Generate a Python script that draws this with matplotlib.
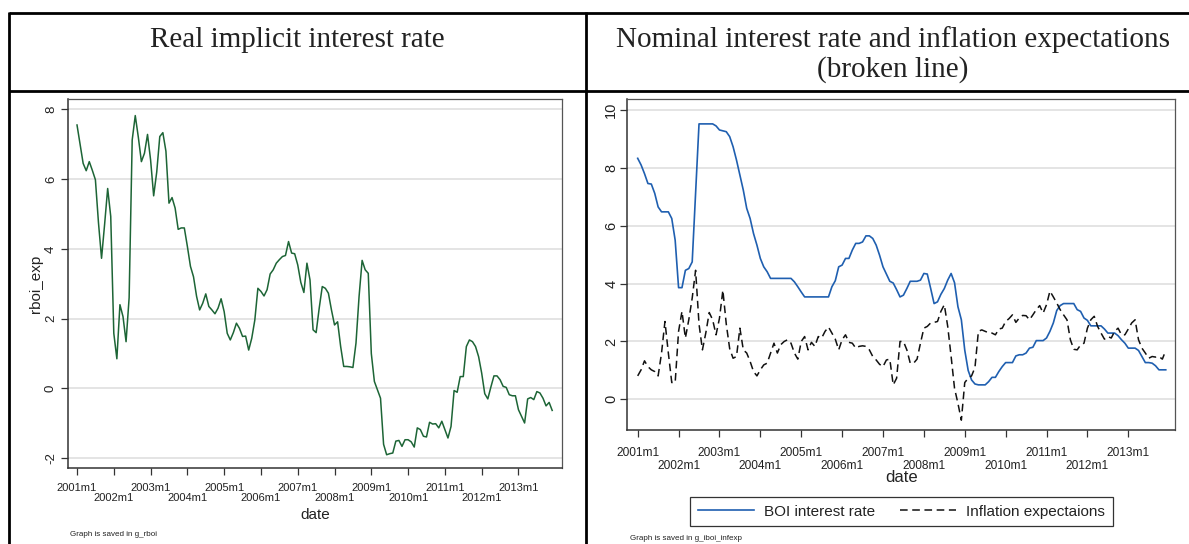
import matplotlib
matplotlib.use("Agg")
import matplotlib.pyplot as plt
from matplotlib.lines import Line2D
import numpy as np

# monthly data, 2001m1 .. 2013m12 (index 0 = 2001m1)
rboi_exp = [
    7.55, 7.0, 6.45, 6.24, 6.5, 6.25, 5.98, 4.75, 3.73, 4.7,
    5.73, 4.93, 1.58, 0.85, 2.4, 2.06, 1.34, 2.6, 7.12, 7.82,
    7.2, 6.5, 6.74, 7.28, 6.55, 5.52, 6.2, 7.22, 7.33, 6.8,
    5.31, 5.47, 5.17, 4.56, 4.6, 4.6, 4.07, 3.5, 3.2, 2.64,
    2.25, 2.44, 2.71, 2.35, 2.25, 2.14, 2.3, 2.57, 2.2, 1.58,
    1.39, 1.6, 1.87, 1.72, 1.49, 1.5, 1.1, 1.44, 1.96, 2.87,
    2.78, 2.65, 2.83, 3.28, 3.4, 3.59, 3.69, 3.78, 3.81, 4.21,
    3.88, 3.86, 3.54, 3.04, 2.75, 3.59, 3.11, 1.68, 1.6, 2.3,
    2.92, 2.87, 2.73, 2.25, 1.82, 1.91, 1.2, 0.63, 0.63, 0.62,
    0.6, 1.3, 2.63, 3.67, 3.4, 3.3, 1.0, 0.2, -0.04, -0.28,
    -1.6, -1.9, -1.87, -1.85, -1.51, -1.49, -1.66, -1.47, -1.47, -1.53,
    -1.68, -1.13, -1.18, -1.37, -1.39, -0.97, -1.02, -1.01, -1.13, -0.94,
    -1.18, -1.42, -1.09, -0.06, -0.11, 0.34, 0.34, 1.2, 1.39, 1.34,
    1.2, 0.91, 0.44, -0.15, -0.3, 0.04, 0.36, 0.36, 0.25, 0.06,
    0.03, -0.18, -0.21, -0.21, -0.61, -0.8, -0.99, -0.3, -0.26, -0.32,
    -0.09, -0.13, -0.28, -0.5, -0.4, -0.63,
]

boi_rate = [
    8.33, 8.1, 7.8, 7.46, 7.44, 7.12, 6.65, 6.48, 6.48, 6.48,
    6.25, 5.5, 3.86, 3.86, 4.46, 4.52, 4.75, 7.1, 9.52, 9.52,
    9.52, 9.52, 9.52, 9.45, 9.31, 9.28, 9.25, 9.08, 8.73, 8.27,
    7.75, 7.23, 6.6, 6.25, 5.73, 5.33, 4.87, 4.58, 4.41, 4.18,
    4.18, 4.18, 4.18, 4.18, 4.18, 4.18, 4.06, 3.89, 3.71, 3.54,
    3.54, 3.54, 3.54, 3.54, 3.54, 3.54, 3.54, 3.89, 4.1, 4.58,
    4.64, 4.87, 4.87, 5.16, 5.39, 5.39, 5.44, 5.65, 5.65, 5.56,
    5.33, 4.98, 4.58, 4.33, 4.08, 4.02, 3.79, 3.54, 3.6, 3.83,
    4.08, 4.08, 4.08, 4.12, 4.35, 4.33, 3.83, 3.31, 3.37, 3.63,
    3.83, 4.12, 4.35, 4.03, 3.2, 2.75, 1.7, 1.0, 0.67, 0.53,
    0.5, 0.5, 0.5, 0.61, 0.76, 0.76, 0.96, 1.13, 1.27, 1.27,
    1.27, 1.5, 1.54, 1.54, 1.6, 1.77, 1.8, 2.03, 2.03, 2.03,
    2.12, 2.35, 2.64, 3.07, 3.24, 3.31, 3.31, 3.31, 3.31, 3.1,
    3.04, 2.81, 2.73, 2.54, 2.54, 2.54, 2.54, 2.43, 2.29, 2.29,
    2.29, 2.2, 2.06, 1.94, 1.77, 1.77, 1.77, 1.69, 1.48, 1.27,
    1.27, 1.25, 1.16, 1.02, 1.02, 1.02,
]

infl_exp = [
    0.81, 1.02, 1.33, 1.13, 1.02, 0.96, 0.81, 1.6, 2.69, 1.6,
    0.58, 0.58, 2.35, 3.04, 2.12, 2.75, 3.5, 4.46, 2.6, 1.71,
    2.3, 3.0, 2.75, 2.23, 2.8, 3.77, 2.6, 1.75, 1.42, 1.48,
    2.46, 1.71, 1.6, 1.31, 0.96, 0.81, 1.02, 1.19, 1.25, 1.6,
    1.94, 1.6, 1.89, 2.0, 2.06, 1.94, 1.6, 1.39, 2.0, 2.17,
    1.71, 1.97, 1.83, 2.17, 2.12, 2.35, 2.5, 2.29, 2.08, 1.71,
    2.06, 2.23, 1.97, 1.94, 1.77, 1.83, 1.85, 1.83, 1.71, 1.48,
    1.36, 1.21, 1.13, 1.36, 1.39, 0.5, 0.73, 2.0, 2.0, 1.71,
    1.25, 1.25, 1.39, 1.94, 2.46, 2.52, 2.64, 2.66, 2.69, 3.04,
    3.27, 2.52, 1.48, 0.38, -0.14, -0.72, 0.58, 0.73, 0.81, 1.1,
    2.35, 2.4, 2.35, 2.3, 2.29, 2.23, 2.43, 2.46, 2.69, 2.79,
    2.92, 2.66, 2.81, 2.9, 2.89, 2.75, 2.92, 3.1, 3.24, 2.98,
    3.27, 3.74, 3.54, 3.33, 3.1, 2.92, 2.75, 2.06, 1.73, 1.71,
    1.88, 1.94, 2.46, 2.75, 2.87, 2.52, 2.29, 2.08, 2.17, 2.12,
    2.35, 2.46, 2.23, 2.23, 2.43, 2.64, 2.75, 2.06, 1.77, 1.6,
    1.42, 1.48, 1.46, 1.48, 1.39, 1.69,
]

year_labels = ["2001m1", "2002m1", "2003m1", "2004m1", "2005m1", "2006m1",
               "2007m1", "2008m1", "2009m1", "2010m1", "2011m1", "2012m1",
               "2013m1"]

W, H = 1189, 544
SERIF = "Liberation Serif"
SANS = "Liberation Sans"
TXT = "#222222"


def fx(px):
    return px / W


def fy(py):
    return 1 - py / H


def axes_box(left, top, right, bottom):
    return [fx(left), fy(bottom), (right - left) / W, (bottom - top) / H]


def style_axes(ax, xlim, ylim, yticks, tick_fs, ytick_fs, xpad, ypad):
    ax.set_xlim(*xlim)
    ax.set_ylim(*ylim)
    ax.set_yticks(yticks)
    ax.set_yticklabels([f"{v:g}" for v in yticks], rotation=90,
                       va="center", fontsize=ytick_fs, family=SANS, color=TXT)
    ticks = np.arange(len(year_labels)) * 12
    ax.set_xticks(ticks)
    # Stata staggers the labels on two rows
    labs = [lab if i % 2 == 0 else "\n" + lab for i, lab in enumerate(year_labels)]
    ax.set_xticklabels(labs, fontsize=tick_fs, family=SANS, color=TXT,
                       linespacing=1.1)
    ax.tick_params(axis="both", direction="out", length=5, width=0.9,
                   color="#333333")
    ax.tick_params(axis="x", pad=xpad)
    ax.tick_params(axis="y", pad=ypad)
    ax.grid(axis="y", color="#e2e2e2", lw=1.3)
    ax.set_axisbelow(True)
    for side in ["left", "bottom"]:
        ax.spines[side].set_color("#333333")
        ax.spines[side].set_linewidth(1.1)
    for side in ["top", "right"]:
        ax.spines[side].set_color("#555555")
        ax.spines[side].set_linewidth(0.9)


fig = plt.figure(figsize=(W / 100, H / 100), dpi=100)

# table frame around the two panels
frame = dict(color="black", lw=2.0, solid_capstyle="butt")
fig.add_artist(Line2D([fx(9), fx(9)], [fy(12), fy(H + 2)], **frame))
fig.add_artist(Line2D([fx(9), fx(W + 2)], [fy(13), fy(13)], **frame))
fig.add_artist(Line2D([fx(9), fx(W + 2)], [fy(91), fy(91)], **frame))
fig.add_artist(Line2D([fx(586), fx(586)], [fy(12), fy(H + 2)], **frame))

fig.text(fx(297.5), fy(40), "Real implicit interest rate", family=SERIF,
         fontsize=21, ha="center", va="center", color=TXT)
fig.text(fx(893), fy(40), "Nominal interest rate and inflation expectations",
         family=SERIF, fontsize=21, ha="center", va="center", color=TXT)
fig.text(fx(893), fy(70), "(broken line)", family=SERIF, fontsize=21,
         ha="center", va="center", color=TXT)

months = np.arange(len(rboi_exp))

# left panel: real implicit rate
ax1 = fig.add_axes(axes_box(68, 99, 562, 468))
ax1.plot(months, rboi_exp, color="#1d6536", lw=1.1)
style_axes(ax1, (-2.94, 158.2), (-2.28, 8.295), [-2, 0, 2, 4, 6, 8],
           8, 9.5, xpad=5.5, ypad=3)
ax1.set_ylabel("rboi_exp", family=SANS, fontsize=11, color=TXT)
ax1.yaxis.set_label_coords(-0.05, 0.5)
ax1.set_xlabel("date", family=SANS, fontsize=11, color=TXT)
ax1.xaxis.set_label_coords(0.5, -0.108)
fig.text(fx(70), fy(535), "Graph is saved in g_rboi", family=SANS,
         fontsize=5.8, va="center", color=TXT)

# right panel: nominal rate and inflation expectations
ax2 = fig.add_axes(axes_box(627.3, 99.3, 1175.3, 430))
ax2.plot(months, boi_rate, color="#1f5fb0", lw=1.2, label="BOI interest rate")
ax2.plot(months, infl_exp, color="#111111", lw=1.1, ls=(0, (5, 3)),
         label="Inflation expectaions")
style_axes(ax2, (-3.05, 157.8), (-1.06, 10.37), [0, 2, 4, 6, 8, 10],
           8.6, 10.5, xpad=7, ypad=1.5)
ax2.set_xlabel("date", family=SANS, fontsize=12, color=TXT)
ax2.xaxis.set_label_coords(0.5, -0.122)
leg = ax2.legend(loc="center", bbox_to_anchor=(0.5, -0.247), ncol=2,
                 frameon=True, fancybox=False, framealpha=1,
                 edgecolor="#333333", prop={"family": SANS, "size": 11},
                 handlelength=3.7, handletextpad=0.65, columnspacing=1.6,
                 borderpad=0.5, borderaxespad=0)
leg.get_frame().set_linewidth(0.9)
for t in leg.get_texts():
    t.set_color(TXT)
fig.text(fx(630), fy(538), "Graph is saved in g_iboi_infexp", family=SANS,
         fontsize=5.8, va="center", color=TXT)

fig.savefig("out.png", dpi=100)
plt.close(fig)
